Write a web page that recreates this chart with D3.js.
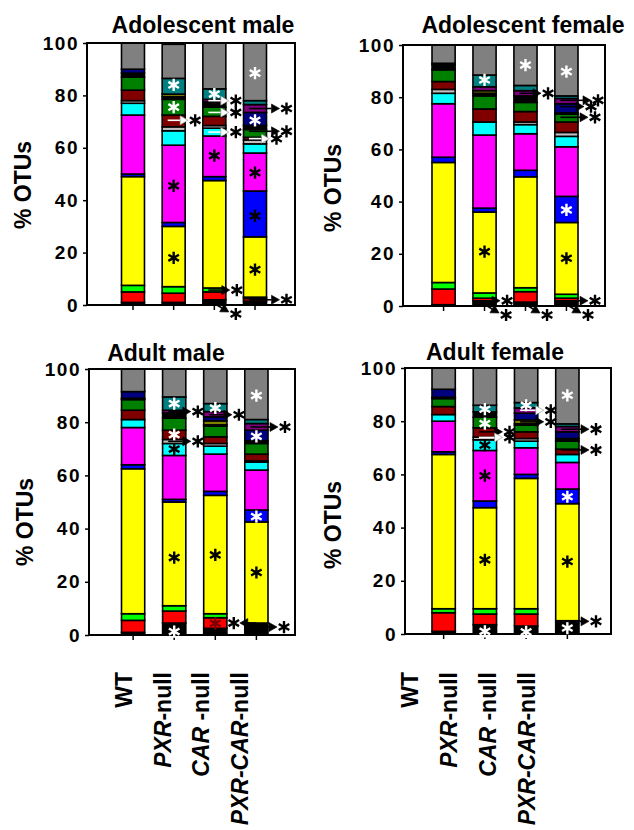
<!DOCTYPE html>
<html>
<head>
<meta charset="utf-8">
<script src="https://cdnjs.cloudflare.com/ajax/libs/d3/7.8.5/d3.min.js"></script>
<style>
  body { margin: 0; background: #fff; }
  svg text { font-family: Arial, "Liberation Sans", sans-serif; font-weight: bold; }
</style>
</head>
<body>
<div id="chart"></div>
<script>
var width = 634, height = 830;

// Genotypes (bars) and stacked OTU groups, bottom to top
var groups = ["WT", "PXR-null", "CAR-null", "PXR-CAR-null"];
var taxa = ["black0", "red", "lime", "yellow", "blue", "magenta", "cyan", "silver",
  "maroon", "green", "black2", "olive", "navy", "purple", "teal", "grey"];
var taxaColors = ["#000000", "#ff0000", "#00ff00", "#ffff00", "#0000ff", "#ff00ff", "#00ffff", "#c0c0c0",
  "#800000", "#008000", "#000000", "#808000", "#000080", "#800080", "#008080", "#808080"];
var yTicks = [0, 20, 40, 60, 80, 100];

// % OTUs per bar, same order as taxa
var adolMale = [
  [1, 4, 2.5, 41.5, 1, 22.5, 4.5, 1, 4, 5, 1.5, 0, 1.5, 0, 0, 10],
  [1, 3.5, 2.5, 23, 1.5, 29.5, 5.5, 1.5, 4.5, 6, 1, 1, 0, 0, 6, 13],
  [2, 3, 1.5, 41, 1.5, 15.5, 3, 1, 3.5, 3.5, 2, 0, 0, 1, 4, 17.5],
  [1.5, 1, 0.5, 23, 17.5, 14.5, 3.5, 1.5, 1, 3, 1.5, 0, 5, 3, 1.5, 22]
];
var adolFemale = [
  [0.5, 6, 2.5, 46, 2, 20.5, 4, 1.5, 3, 4.5, 2, 0.5, 0, 0, 0, 7],
  [2, 1, 2, 31, 1.5, 28, 5, 0, 5, 5, 1, 1, 0, 1.5, 4.5, 11.5],
  [1.5, 4, 1.5, 42.5, 2.5, 14, 3.5, 1, 4, 3.5, 2.5, 0, 0, 2, 2, 15.5],
  [2, 1, 1.5, 27.5, 10, 19, 4, 1.5, 4, 3, 0.5, 0, 3.5, 2, 1, 19.5]
];
var adultMale = [
  [1, 4.5, 2.5, 54.5, 1.5, 14, 3, 0, 3.5, 4, 0.5, 0, 2.5, 0, 0, 8.5],
  [4.5, 4.5, 2, 39, 1, 16.5, 4.5, 1.5, 3.5, 4.5, 2, 0, 0, 1, 5, 10.5],
  [2.5, 4, 1.5, 44.5, 1.5, 14, 3, 1, 2.5, 4, 0.5, 1.5, 1.5, 2, 3, 13],
  [4.5, 0, 0, 38, 4.5, 15, 3, 0.5, 2.5, 4, 1, 0, 4, 2.5, 1.5, 19]
];
var adultFemale = [
  [1, 7, 1.5, 58, 1, 11.5, 2.5, 0, 3, 3, 0.5, 0, 3, 0, 0, 8],
  [3.5, 4, 2, 38, 2.5, 19, 4, 1, 3.5, 4, 2, 0, 0, 0, 2.5, 14],
  [3, 4.5, 2, 49, 1.5, 10, 2.5, 1, 2.5, 2.5, 0.5, 1.5, 2.5, 2, 2, 13],
  [5, 0, 0, 44, 5.5, 10, 3, 0, 2, 3, 1, 0, 2.5, 2, 1, 21]
];

// significance asterisks inside bars: [bar, % position, colour]
var adolMaleStars = [[1, 84, "white"], [1, 75.5, "white"], [1, 45.5, "black"], [1, 18, "black"],
  [2, 80.5, "white"], [2, 57, "black"],
  [3, 88.5, "white"], [3, 70.5, "white"], [3, 50.5, "black"], [3, 34, "black"], [3, 13.5, "black"]];
var adolFemaleStars = [[1, 86.6, "white"], [1, 20.8, "black"], [2, 92.3, "white"],
  [3, 89.8, "white"], [3, 36.8, "white"], [3, 18.3, "black"]];
var adultMaleStars = [[1, 87, "white"], [1, 75.3, "white"], [1, 69.9, "black"], [1, 29.1, "black"], [1, 1.3, "white"],
  [2, 85.3, "white"], [2, 30.1, "black"], [2, 4.4, "#800000"],
  [3, 90, "white"], [3, 74.7, "white"], [3, 44.5, "white"], [3, 23.5, "black"]];
var adultFemaleStars = [[1, 84.5, "white"], [1, 79.1, "white"], [1, 71, "black"], [1, 59.5, "black"], [1, 27.9, "black"], [1, 1, "white"],
  [2, 86, "white"], [2, 0.8, "white"],
  [3, 89.75, "white"], [3, 51.6, "white"], [3, 27.25, "black"], [3, 2.25, "white"]];

// arrows to small groups: [bar, % position, colour, r=right / d=down / l=left, tip offset]
var adolMaleArrows = [[1, 70.5, "white", "r", 3], [2, 78, "white", "r", 3], [2, 73.5, "white", "r", 3],
  [2, 66, "white", "r", 3], [2, 5.7, "black", "r", 4], [2, 0, "black", "d", 0],
  [3, 75, "black", "r", 13], [3, 66.3, "black", "r", 13], [3, 63.5, "white", "r", 3], [3, 2, "black", "r", 13]];
var adolFemaleArrows = [[1, 2, "black", "r", 4], [1, 0, "black", "d", 0], [2, 81.5, "black", "r", 4], [2, 0, "black", "d", 0],
  [3, 78.8, "black", "r", 13], [3, 76.4, "black", "r", 6], [3, 72.3, "black", "r", 10], [3, 2, "black", "r", 10], [3, 0, "black", "d", 0]];
var adultMaleArrows = [[1, 84, "black", "r", 5], [1, 72.8, "black", "r", 5], [2, 82.8, "black", "r", 5],
  [3, 78.2, "black", "r", 10], [3, 3, "black", "r", 9], [3, 4.5, "black", "l", 5]];
var adultFemaleArrows = [[1, 76, "black", "r", 6], [1, 73.9, "white", "r", 6], [2, 84.1, "white", "r", 6],
  [2, 79.75, "black", "r", 6], [3, 77, "black", "r", 10], [3, 69.2, "black", "r", 10], [3, 4.75, "black", "r", 10]];

var panels = [
  {title: "Adolescent male", data: adolMale, stars: adolMaleStars, arrows: adolMaleArrows,
    frame: [87, 295, 43, 305], bars: [121.5, 266.5], titleX: 203, titleY: 33, labelX: 23, labelY: 185},
  {title: "Adolescent female", data: adolFemale, stars: adolFemaleStars, arrows: adolFemaleArrows,
    frame: [403, 605, 45, 306], bars: [432, 578], titleX: 523, titleY: 33, labelX: 333, labelY: 188},
  {title: "Adult male", data: adultMale, stars: adultMaleStars, arrows: adultMaleArrows,
    frame: [89, 295, 369, 635], bars: [121.5, 268], titleX: 166, titleY: 361, labelX: 25, labelY: 522},
  {title: "Adult female", data: adultFemale, stars: adultFemaleStars, arrows: adultFemaleArrows,
    frame: [405, 611, 368, 634], bars: [432, 579], titleX: 495, titleY: 360, labelX: 333, labelY: 525}
];

//Create SVG element
var svg = d3.select("#chart")
  .append("svg")
  .attr("width", width)
  .attr("height", height)
  .style("background", "#fff");

var star = d3.symbol().type(d3.symbolAsterisk).size(105);

function drawStar(g, x, y, color) {
  g.append("path")
    .attr("d", star)
    .attr("transform", `translate(${x},${y})`)
    .attr("fill", "none")
    .attr("stroke", color)
    .attr("stroke-width", 2.4);
}

function drawArrow(g, x1, y1, x2, y2, color) {
  var a = Math.atan2(y2 - y1, x2 - x1), L = 8, H = 4.5;
  var bx = x2 - L * Math.cos(a), by = y2 - L * Math.sin(a);
  g.append("line")
    .attr("x1", x1).attr("y1", y1)
    .attr("x2", bx).attr("y2", by)
    .attr("stroke", color)
    .attr("stroke-width", 1.6);
  g.append("path")
    .attr("d", `M${x2},${y2}L${bx - H * Math.sin(a)},${by + H * Math.cos(a)}L${bx + H * Math.sin(a)},${by - H * Math.cos(a)}Z`)
    .attr("fill", color)
    .attr("stroke", color == "white" ? "#999" : color)
    .attr("stroke-width", 0.6);
}

panels.forEach(function(p) {
  var g = svg.append("g");

  // Add scales
  var xScale = d3.scaleBand()
    .domain(groups)
    .range(p.bars)
    .paddingInner(0.435);

  var yScale = d3.scaleLinear()
    .domain([0, 100])
    .range([p.frame[3], p.frame[2]]);

  var stacked = d3.stack()
    .keys(d3.range(taxa.length))
    .value(function(d, k) { return d[k]; })(p.data);

  // Render stacked bars
  g.selectAll(".layer")
    .data(stacked)
    .enter()
    .append("g")
    .attr("class", "layer")
    .attr("fill", d => taxaColors[d.key])
    .selectAll("rect")
    .data(d => d.map((v, i) => ({v: v, i: i})).filter(s => s.v[1] > s.v[0]))
    .enter()
    .append("rect")
    .attr("x", d => xScale(groups[d.i]))
    .attr("width", xScale.bandwidth())
    .attr("y", d => yScale(d.v[1]))
    .attr("height", d => yScale(d.v[0]) - yScale(d.v[1]))
    .attr("stroke", "#000")
    .attr("stroke-width", 1.6);

  // Render frame
  g.append("rect")
    .attr("x", p.frame[0])
    .attr("y", p.frame[2])
    .attr("width", p.frame[1] - p.frame[0])
    .attr("height", p.frame[3] - p.frame[2])
    .attr("fill", "none")
    .attr("stroke", "#000")
    .attr("stroke-width", 2);

  // Render Y axis
  var yAxis = g.append("g")
    .attr("transform", `translate(${p.frame[0]},0)`)
    .call(d3.axisLeft(yScale).tickValues(yTicks).tickSize(4).tickPadding(4));
  yAxis.select(".domain").remove();
  yAxis.selectAll("line").attr("stroke", "#000").attr("stroke-width", 1.5);
  yAxis.selectAll("text")
    .style("font-size", "19px")
    .style("letter-spacing", "1.5px")
    .attr("fill", "#000");

  // Render X axis ticks
  var xAxis = g.append("g")
    .attr("transform", `translate(0,${p.frame[3]})`)
    .call(d3.axisBottom(xScale).tickSize(5).tickFormat(""));
  xAxis.select(".domain").remove();
  xAxis.selectAll("line").attr("stroke", "#000").attr("stroke-width", 1.5);

  g.append("text")
    .text(p.title)
    .attr("x", p.titleX)
    .attr("y", p.titleY)
    .style("text-anchor", "middle")
    .style("font-size", "23px");

  g.append("text")
    .attr("transform", `translate(${p.labelX},${p.labelY}) rotate(-90)`)
    .attr("dominant-baseline", "central")
    .text("% OTUs")
    .style("text-anchor", "middle")
    .style("font-size", "23px");

  // asterisks inside the bars
  p.stars.forEach(function(s) {
    drawStar(g, xScale(groups[s[0]]) + xScale.bandwidth() / 2, yScale(s[1]), s[2]);
  });

  // arrows pointing at minor groups
  p.arrows.forEach(function(a) {
    var left = xScale(groups[a[0]]), right = left + xScale.bandwidth(), mid = left + xScale.bandwidth() / 2;
    var y = yScale(a[1]), y0 = yScale(0);
    if (a[3] == "r") {
      drawArrow(g, mid - 6, y, right + a[4], y, a[2]);
      drawStar(g, right + a[4] + 7, y, "black");
    } else if (a[3] == "l") {
      drawArrow(g, mid, y, left - a[4], y, a[2]);
      drawStar(g, left - a[4] - 6, y, "black");
    } else {
      drawArrow(g, right - 14, y0 - 3, right + 3, y0 + 7, a[2]);
      drawStar(g, right + 10, y0 + 9, "black");
    }
  });
});

// Genotype labels under each column
var labelParts = [
  [["WT", false]],
  [["PXR", true], ["-null", false]],
  [["CAR", true], [" -null", false]],
  [["PXR-CAR", true], ["-null", false]]
];

[[132, 248], [418, 535]].forEach(function(r) {
  var xLab = d3.scalePoint().domain(groups).range(r);
  groups.forEach(function(grp, i) {
    var t = svg.append("text")
      .attr("transform", `translate(${xLab(grp)},672) rotate(-90)`)
      .style("text-anchor", "end")
      .style("font-size", "23px")
      .style("white-space", "pre");
    labelParts[i].forEach(function(part) {
      t.append("tspan")
        .text(part[0])
        .style("font-style", part[1] ? "italic" : "normal");
    });
  });
});
</script>
</body>
</html>
